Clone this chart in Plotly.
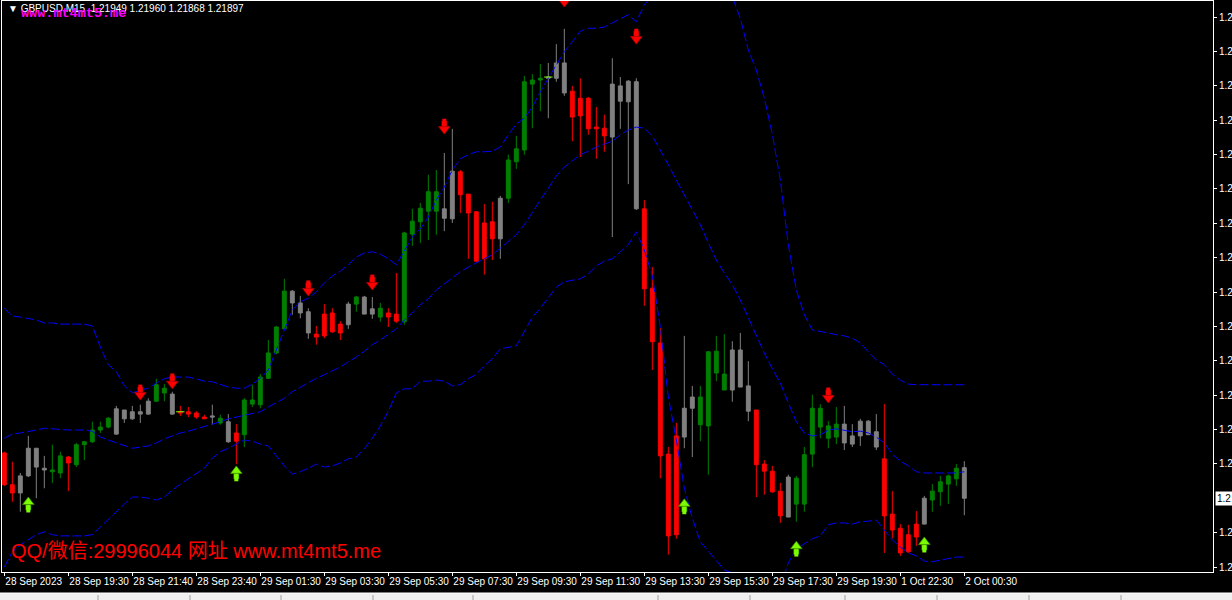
import plotly.graph_objects as go

# ---------------- data (GBPUSD M15) ----------------
bars = list(range(121))
# candle colour class per bar: u = green, d = red, n = grey
cls = ("ddnnnnuudu" "uuuunnnnnu" "unddddnund" "uuuuuunnnd" "dddnunnudd"
       "uuuuunnddd" "ddnuuuuunn" "ndddddnnnn" "dddddnnuuu" "unnnddddnu"
       "uuuuunnnnn" "dddddnuuuun")

opens = [1.21974, 1.21920, 1.21906, 1.21935, 1.21982, 1.21948, 1.21942, 1.21940, 1.21967, 1.21954,
 1.21988, 1.21993, 1.22013, 1.22018, 1.22006, 1.22047, 1.22032, 1.22044, 1.22040, 1.22062,
 1.22076, 1.22074, 1.22044, 1.22044, 1.22042, 1.22035, 1.22037, 1.22025, 1.22027, 1.22008,
 1.22005, 1.22057, 1.22056, 1.22101, 1.22144, 1.22185, 1.22249, 1.22229, 1.22214, 1.22176,
 1.22210, 1.22212, 1.22193, 1.22192, 1.22227, 1.22239, 1.22210, 1.22205, 1.22212, 1.22210,
 1.22197, 1.22346, 1.22367, 1.22385, 1.22385, 1.22389, 1.22372, 1.22452, 1.22414, 1.22384,
 1.22365, 1.22367, 1.22338, 1.22407, 1.22469, 1.22489, 1.22601, 1.22608, 1.22611, 1.22611,
 1.22637, 1.22589, 1.22577, 1.22577, 1.22528, 1.22526, 1.22511, 1.22598, 1.22571, 1.22605,
 1.22389, 1.22254, 1.22161, 1.21972, 1.22003, 1.22001, 1.22050, 1.22022, 1.22020, 1.22110,
 1.22081, 1.22081, 1.22149, 1.22088, 1.22047, 1.21955, 1.21943, 1.21909, 1.21865, 1.21887,
 1.21887, 1.21972, 1.22018, 1.21999, 1.22001, 1.22023, 1.22003, 1.22003, 1.22028, 1.22010,
 1.21964, 1.21870, 1.21846, 1.21835, 1.21853, 1.21853, 1.21894, 1.21908, 1.21921, 1.21930,
 1.21949]
highs = [1.21976, 1.21959, 1.21940, 1.22003, 1.21982, 1.21969, 1.21988, 1.21976, 1.21969, 1.21991,
 1.21994, 1.22027, 1.22027, 1.22035, 1.22054, 1.22047, 1.22054, 1.22056, 1.22067, 1.22100,
 1.22091, 1.22078, 1.22054, 1.22052, 1.22045, 1.22039, 1.22056, 1.22039, 1.22040, 1.22023,
 1.22067, 1.22090, 1.22108, 1.22166, 1.22190, 1.22270, 1.22251, 1.22241, 1.22220, 1.22190,
 1.22227, 1.22220, 1.22198, 1.22231, 1.22241, 1.22241, 1.22239, 1.22229, 1.22220, 1.22280,
 1.22350, 1.22389, 1.22399, 1.22447, 1.22455, 1.22484, 1.22525, 1.22455, 1.22414, 1.22385,
 1.22397, 1.22401, 1.22411, 1.22481, 1.22513, 1.22615, 1.22618, 1.22635, 1.22637, 1.22669,
 1.22695, 1.22598, 1.22611, 1.22579, 1.22562, 1.22549, 1.22645, 1.22613, 1.22608, 1.22611,
 1.22404, 1.22290, 1.22186, 1.21984, 1.22025, 1.22173, 1.22088, 1.22088, 1.22146, 1.22173,
 1.22176, 1.22164, 1.22178, 1.22130, 1.22047, 1.21962, 1.21952, 1.21923, 1.21937, 1.21935,
 1.21984, 1.22073, 1.22057, 1.22028, 1.22052, 1.22054, 1.22023, 1.22032, 1.22030, 1.22040,
 1.22057, 1.21909, 1.21853, 1.21852, 1.21875, 1.21901, 1.21921, 1.21935, 1.21937, 1.21955,
 1.21960]
lows = [1.21918, 1.21891, 1.21874, 1.21933, 1.21897, 1.21914, 1.21923, 1.21931, 1.21909, 1.21950,
 1.21962, 1.21991, 1.22008, 1.22016, 1.22005, 1.22025, 1.22030, 1.22025, 1.22039, 1.22061,
 1.22062, 1.22039, 1.22037, 1.22035, 1.22032, 1.22032, 1.22022, 1.22022, 1.21991, 1.21955,
 1.21984, 1.22052, 1.22050, 1.22100, 1.22142, 1.22183, 1.22209, 1.22203, 1.22168, 1.22158,
 1.22169, 1.22178, 1.22166, 1.22185, 1.22214, 1.22210, 1.22202, 1.22197, 1.22188, 1.22195,
 1.22192, 1.22326, 1.22331, 1.22336, 1.22345, 1.22351, 1.22365, 1.22382, 1.22304, 1.22299,
 1.22277, 1.22302, 1.22304, 1.22399, 1.22457, 1.22481, 1.22526, 1.22555, 1.22543, 1.22605,
 1.22581, 1.22504, 1.22477, 1.22515, 1.22474, 1.22486, 1.22341, 1.22525, 1.22431, 1.22387,
 1.22224, 1.22115, 1.21931, 1.21801, 1.21828, 1.21982, 1.21967, 1.21994, 1.21937, 1.22096,
 1.22081, 1.22061, 1.22086, 1.22028, 1.21899, 1.21903, 1.21906, 1.21855, 1.21865, 1.21857,
 1.21874, 1.21950, 1.21999, 1.21982, 1.21989, 1.21979, 1.21984, 1.21986, 1.22005, 1.21979,
 1.21804, 1.21829, 1.21799, 1.21804, 1.21816, 1.21853, 1.21874, 1.21884, 1.21887, 1.21918,
 1.21868]
closes = [1.21920, 1.21906, 1.21935, 1.21982, 1.21950, 1.21945, 1.21945, 1.21969, 1.21957, 1.21988,
 1.21993, 1.22013, 1.22018, 1.22033, 1.22049, 1.22032, 1.22044, 1.22040, 1.22062, 1.22090,
 1.22084, 1.22040, 1.22042, 1.22040, 1.22035, 1.22032, 1.22035, 1.22033, 1.21993, 1.21994,
 1.22064, 1.22064, 1.22103, 1.22144, 1.22188, 1.22249, 1.22229, 1.22212, 1.22178, 1.22171,
 1.22173, 1.22180, 1.22178, 1.22227, 1.22239, 1.22210, 1.22219, 1.22220, 1.22205, 1.22198,
 1.22348, 1.22368, 1.22390, 1.22418, 1.22418, 1.22373, 1.22453, 1.22413, 1.22382, 1.22300,
 1.22304, 1.22338, 1.22407, 1.22472, 1.22491, 1.22605, 1.22608, 1.22611, 1.22613, 1.22637,
 1.22586, 1.22545, 1.22547, 1.22525, 1.22525, 1.22513, 1.22601, 1.22572, 1.22606, 1.22389,
 1.22253, 1.22163, 1.21969, 1.21833, 1.21835, 1.22050, 1.22069, 1.22069, 1.22146, 1.22147,
 1.22108, 1.22149, 1.22086, 1.22045, 1.21954, 1.21943, 1.21908, 1.21867, 1.21933, 1.21931,
 1.21971, 1.22050, 1.22050, 1.22020, 1.22023, 1.21991, 1.21989, 1.22028, 1.22005, 1.21984,
 1.21867, 1.21843, 1.21804, 1.21806, 1.21831, 1.21897, 1.21909, 1.21925, 1.21935, 1.21948,
 1.21897]

upper = [1.22220, 1.22207, 1.22205, 1.22203, 1.22200, 1.22195, 1.22195, 1.22193, 1.22193, 1.22193,
 1.22193, 1.22190, 1.22154, 1.22124, 1.22112, 1.22088, 1.22076, 1.22081, 1.22084, 1.22093,
 1.22100, 1.22103, 1.22103, 1.22103, 1.22100, 1.22096, 1.22095, 1.22091, 1.22086, 1.22084,
 1.22084, 1.22091, 1.22101, 1.22115, 1.22149, 1.22183, 1.22217, 1.22231, 1.22237, 1.22248,
 1.22263, 1.22275, 1.22283, 1.22294, 1.22307, 1.22314, 1.22316, 1.22312, 1.22304, 1.22294,
 1.22317, 1.22341, 1.22355, 1.22375, 1.22404, 1.22426, 1.22455, 1.22474, 1.22481, 1.22486,
 1.22486, 1.22487, 1.22494, 1.22515, 1.22533, 1.22543, 1.22562, 1.22588, 1.22611, 1.22634,
 1.22656, 1.22673, 1.22691, 1.22696, 1.22696, 1.22698, 1.22705, 1.22713, 1.22719, 1.22707,
 1.22736, 1.22751, 1.22790, 1.22858, 1.22880, 1.22911, 1.22911, 1.22900, 1.22855, 1.22814,
 1.22785, 1.22749, 1.22713, 1.22659, 1.22625, 1.22577, 1.22516, 1.22438, 1.22328, 1.22251,
 1.22209, 1.22183, 1.22181, 1.22178, 1.22175, 1.22173, 1.22169, 1.22161, 1.22146, 1.22132,
 1.22124, 1.22108, 1.22098, 1.22091, 1.22090, 1.22090, 1.22090, 1.22090, 1.22090, 1.22090,
 1.22090]
middle = [1.21999, 1.22006, 1.22008, 1.22010, 1.22013, 1.22016, 1.22015, 1.22013, 1.22013, 1.22013,
 1.22013, 1.22011, 1.22001, 1.21996, 1.21991, 1.21986, 1.21982, 1.21984, 1.21986, 1.21991,
 1.21998, 1.22003, 1.22008, 1.22011, 1.22015, 1.22018, 1.22022, 1.22027, 1.22032, 1.22035,
 1.22037, 1.22040, 1.22044, 1.22052, 1.22059, 1.22067, 1.22078, 1.22086, 1.22093, 1.22101,
 1.22107, 1.22113, 1.22120, 1.22129, 1.22137, 1.22147, 1.22158, 1.22166, 1.22175, 1.22185,
 1.22200, 1.22212, 1.22226, 1.22236, 1.22251, 1.22261, 1.22271, 1.22282, 1.22290, 1.22297,
 1.22304, 1.22311, 1.22322, 1.22334, 1.22345, 1.22362, 1.22384, 1.22404, 1.22424, 1.22445,
 1.22460, 1.22470, 1.22481, 1.22487, 1.22494, 1.22499, 1.22504, 1.22515, 1.22523, 1.22528,
 1.22526, 1.22513, 1.22489, 1.22464, 1.22438, 1.22413, 1.22387, 1.22362, 1.22331, 1.22302,
 1.22280, 1.22260, 1.22234, 1.22203, 1.22173, 1.22144, 1.22117, 1.22093, 1.22059, 1.22027,
 1.22008, 1.22003, 1.22005, 1.22013, 1.22015, 1.22013, 1.22010, 1.22011, 1.22008, 1.22001,
 1.21991, 1.21972, 1.21960, 1.21952, 1.21942, 1.21940, 1.21940, 1.21940, 1.21940, 1.21940,
 1.21942]
lower = [1.21780, 1.21806, 1.21818, 1.21826, 1.21835, 1.21840, 1.21835, 1.21833, 1.21833, 1.21833,
 1.21833, 1.21835, 1.21848, 1.21862, 1.21875, 1.21887, 1.21899, 1.21899, 1.21897, 1.21894,
 1.21899, 1.21911, 1.21921, 1.21930, 1.21938, 1.21948, 1.21965, 1.21976, 1.21982, 1.21989,
 1.21996, 1.21994, 1.21989, 1.21986, 1.21969, 1.21952, 1.21938, 1.21942, 1.21948, 1.21955,
 1.21950, 1.21952, 1.21957, 1.21964, 1.21967, 1.21981, 1.21999, 1.22020, 1.22045, 1.22076,
 1.22083, 1.22083, 1.22096, 1.22096, 1.22098, 1.22096, 1.22088, 1.22090, 1.22100, 1.22108,
 1.22122, 1.22134, 1.22151, 1.22154, 1.22156, 1.22180, 1.22205, 1.22220, 1.22237, 1.22256,
 1.22265, 1.22268, 1.22270, 1.22278, 1.22292, 1.22300, 1.22304, 1.22316, 1.22328, 1.22350,
 1.22319, 1.22275, 1.22188, 1.22069, 1.21996, 1.21914, 1.21863, 1.21823, 1.21807, 1.21790,
 1.21775, 1.21770, 1.21755, 1.21748, 1.21721, 1.21710, 1.21717, 1.21748, 1.21787, 1.21811,
 1.21819, 1.21828, 1.21833, 1.21852, 1.21855, 1.21855, 1.21853, 1.21857, 1.21858, 1.21860,
 1.21843, 1.21826, 1.21814, 1.21804, 1.21799, 1.21790, 1.21789, 1.21792, 1.21795, 1.21797,
 1.21797]

# signal arrows: price at the arrow tip
sell_bars = [17, 21, 38, 46, 55, 70, 79, 103]
sell_tips = [1.22064, 1.22083, 1.22241, 1.22251, 1.22516, 1.22732, 1.22669, 1.22059]
buy_bars = [3, 29, 85, 99, 115]
buy_tips = [1.21899, 1.21952, 1.21896, 1.21824, 1.21831]
doji_bars = [22, 68]
doji_vals = [1.22044, 1.22613]

x_tick_bars = list(range(0, 121, 8))
x_tick_labels = ["28 Sep 2023", "28 Sep 19:30", "28 Sep 21:40", "28 Sep 23:40", "29 Sep 01:30",
                 "29 Sep 03:30", "29 Sep 05:30", "29 Sep 07:30", "29 Sep 09:30", "29 Sep 11:30",
                 "29 Sep 13:30", "29 Sep 15:30", "29 Sep 17:30", "29 Sep 19:30", "1 Oct 22:30",
                 "2 Oct 00:30"]
# price-scale ticks (the one at the current price is covered by the price label)
y_ticks = [1.227151, 1.226567, 1.225983, 1.225398, 1.224814, 1.224229, 1.223645, 1.223061,
           1.222476, 1.221892, 1.221307, 1.220723, 1.220139, 1.219554, 1.218385,
           1.217801]
y_range = [1.217716, 1.227423]
symbol = "GBPUSD,M15"
current_price = closes[-1]

# ---------------- figure ----------------
W, H = 1232, 600
L, R, T, B = 2, 19, 1, 28
pw, ph = W - L - R, H - T - B
px = lambda v: (v - L) / pw          # paper helpers for decoration
py = lambda v: (H - B - v) / ph
k = (y_range[1] - y_range[0]) / ph   # price per screen pixel (for arrow glyph shape)

fig = go.Figure()
palette = {"u": "#008000", "d": "#ff0000", "n": "#808080"}
for key, col in palette.items():
    idx = [i for i, c in enumerate(cls) if c == key]
    style = dict(line=dict(color=col, width=1), fillcolor=col)
    fig.add_trace(go.Candlestick(
        x=[bars[i] for i in idx], open=[opens[i] for i in idx], high=[highs[i] for i in idx],
        low=[lows[i] for i in idx], close=[closes[i] for i in idx],
        increasing=style, decreasing=style, whiskerwidth=0, showlegend=False, hoverinfo="skip"))

for band in (upper, middle, lower):
    fig.add_trace(go.Scatter(x=bars, y=band, mode="lines", hoverinfo="skip", showlegend=False,
                             line=dict(color="#0000ff", width=1, dash="9px,3px")))

fig.add_trace(go.Scatter(x=doji_bars, y=doji_vals, mode="markers", showlegend=False, hoverinfo="skip",
                         marker=dict(symbol="line-ew", size=6, line=dict(color="#7cfc00", width=1))))


def add_arrows(xs, tips, direction, fill, edge):
    s = 1 if direction == "down" else -1     # down arrows sit above the tip
    head = [t + s * 5 * k for t in tips]
    stem = [t + s * 10.5 * k for t in tips]
    fig.add_trace(go.Scatter(x=xs, y=stem, mode="markers", showlegend=False, hoverinfo="skip",
                             marker=dict(symbol="square", size=5, color=fill,
                                         line=dict(color=edge, width=0.6))))
    fig.add_trace(go.Scatter(x=xs, y=stem, mode="markers", showlegend=False, hoverinfo="skip",
                             marker=dict(symbol="line-ns", size=7, line=dict(color=fill, width=4))))
    fig.add_trace(go.Scatter(x=xs, y=head, mode="markers", showlegend=False, hoverinfo="skip",
                             marker=dict(symbol="triangle-" + direction, size=10, color=fill,
                                         line=dict(color=edge, width=0.8))))


add_arrows(sell_bars, sell_tips, "down", "#ff0000", "#b00000")
add_arrows(buy_bars, buy_tips, "up", "#7cfc00", "#3c8c00")

axis_font = dict(family="Liberation Sans, Arial", size=10, color="white")
fig.update_layout(
    width=W, height=H, autosize=False,
    margin=dict(l=L, r=R, t=T, b=B, autoexpand=False),
    paper_bgcolor="#000000", plot_bgcolor="#000000",
    showlegend=False,
    xaxis=dict(range=[-0.29, -0.29 + pw / 8], tickmode="array", tickvals=x_tick_bars,
               ticktext=x_tick_labels, ticks="outside", ticklen=3, tickcolor="white",
               ticklabelposition="outside right", tickfont=axis_font, tickangle=0, automargin=False,
               showgrid=False, zeroline=False, showline=True, linecolor="white", mirror=True,
               rangeslider=dict(visible=False), fixedrange=True),
    yaxis=dict(side="right", range=y_range, tickmode="array", tickvals=y_ticks, automargin=False,
               tickformat=".1f", ticks="outside", ticklen=3, tickcolor="white", tickfont=axis_font,
               showgrid=False, zeroline=False, showline=True, linecolor="white", mirror=True,
               fixedrange=True),
    annotations=[
        dict(xref="paper", yref="paper", x=px(6), y=py(8.5), xanchor="left", yanchor="middle",
             text=f"▼ {symbol}  {opens[-1]:.5f} {highs[-1]:.5f} {lows[-1]:.5f} {closes[-1]:.5f}",
             showarrow=False, font=dict(family="Liberation Sans, Arial", size=10, color="white")),
        dict(xref="paper", yref="paper", x=px(19), y=py(13.5), xanchor="left", yanchor="middle",
             text="<b>www.mt4mt5.me</b>", showarrow=False,
             font=dict(family="Liberation Mono, Courier New", size=13.5, color="#ff00ff")),
        dict(xref="paper", yref="paper", x=px(9), y=py(551), xanchor="left", yanchor="middle",
             text="QQ/微信:29996044 网址 www.mt4mt5.me", showarrow=False,
             font=dict(family="Liberation Sans, Noto Sans CJK SC", size=20, color="#ff0000")),
        dict(xref="paper", yref="y", x=px(1215), y=current_price, xanchor="left", yanchor="middle",
             text="1.2", showarrow=False, bgcolor="white", borderpad=1,
             font=dict(family="Liberation Sans, Arial", size=10, color="black")),
    ],
    shapes=[
        dict(type="rect", xref="paper", yref="paper", x0=px(0), x1=px(W), y0=py(H), y1=py(593),
             fillcolor="#f0f0f0", line=dict(width=0), layer="above"),
        dict(type="line", xref="paper", yref="paper", x0=px(0), x1=px(W), y0=py(593), y1=py(593),
             line=dict(color="#ffffff", width=1)),
    ] + [dict(type="line", xref="paper", yref="paper", x0=px(v), x1=px(v), y0=py(600), y1=py(595),
              line=dict(color="#a0a0a0", width=1))
         for v in (98, 190, 281, 373, 473, 658, 750, 845, 937, 1029, 1121)],
)

fig.write_html("out.html", config={"displayModeBar": False},
               post_script="document.body.style.margin='0';document.body.style.background='#000';")
